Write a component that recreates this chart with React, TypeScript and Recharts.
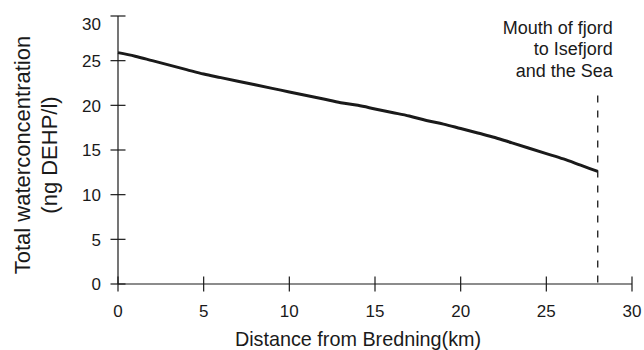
import React from "react";
import { LineChart, Line, XAxis, YAxis, ReferenceLine } from "recharts";

const distanceKm = [0, 1, 2, 3, 4, 5, 6, 7, 8, 9, 10, 11, 12, 13, 14, 15, 16, 17, 18, 19, 20, 21, 22, 23, 24, 25, 26, 27, 28];
const concentration = [25.9, 25.5, 25.0, 24.5, 24.0, 23.5, 23.1, 22.7, 22.3, 21.9, 21.5, 21.1, 20.7, 20.3, 20.0, 19.6, 19.2, 18.8, 18.3, 17.9, 17.4, 16.9, 16.4, 15.8, 15.2, 14.6, 14.0, 13.3, 12.6];
const xTicks = [0, 5, 10, 15, 20, 25, 30];
const yTicks = [0, 5, 10, 15, 20, 25, 30];
const mouthKm = 28;
const mouthTop = 21.1;
const mouthLabel = ["Mouth of fjord", "to Isefjord", "and the Sea"];
const xTitle = "Distance from Bredning(km)";
const yTitle = ["Total waterconcentration", "(ng DEHP/l)"];

const data = distanceKm.map((d, i) => ({ d, c: concentration[i] }));

const FONT = "'Liberation Sans', Arial, Helvetica, sans-serif";
const INK = "#1a1a1a";

const XTick = (props: any) => {
  const { x, y, payload } = props;
  return (
    <g>
      <line x1={x} x2={x} y1={y - 7.5} y2={y + 7.5} stroke={INK} strokeWidth={1.2} />
      <text x={x} y={y + 33} textAnchor="middle" fontSize={17} fontFamily={FONT} fill={INK}>
        {payload.value}
      </text>
    </g>
  );
};

const YTick = (props: any) => {
  const { x, y, payload } = props;
  const ty = Math.max(y, 23.5);
  return (
    <g>
      <line x1={x - 7.5} x2={x + 7.5} y1={y} y2={y} stroke={INK} strokeWidth={1.2} />
      <text x={x - 17} y={ty + 6.3} textAnchor="end" fontSize={17} fontFamily={FONT} fill={INK}>
        {payload.value}
      </text>
    </g>
  );
};

const YTitle = () => {
  const cy = 155;
  return (
    <g>
      <text transform={`translate(30, ${cy}) rotate(-90)`} textAnchor="middle" fontSize={22} fontFamily={FONT} fill={INK}>
        {yTitle[0]}
      </text>
      <text transform={`translate(56.5, ${cy}) rotate(-90)`} textAnchor="middle" fontSize={22} fontFamily={FONT} fill={INK}>
        {yTitle[1]}
      </text>
    </g>
  );
};

const XTitle = (props: any) => {
  const vb = props.viewBox || {};
  const cx = vb.x + vb.width / 2 - 17;
  return (
    <text x={cx} y={345.5} textAnchor="middle" fontSize={19.8} fontFamily={FONT} fill={INK}>
      {xTitle}
    </text>
  );
};

const MouthLabel = (props: any) => {
  const vb = props.viewBox || {};
  const x = vb.x + 15;
  const top = vb.y;
  return (
    <g>
      {mouthLabel.map((t, i) => (
        <text key={i} x={x} y={top - 62 + i * 21.5} textAnchor="end" fontSize={18} fontFamily={FONT} fill={INK}>
          {t}
        </text>
      ))}
    </g>
  );
};

export default function App() {
  return (
    <div style={{ position: "absolute", left: 0, top: 0, width: 644, height: 350, background: "#fff" }}>
      <LineChart width={644} height={350} data={data} margin={{ top: 16, right: 12, left: 0, bottom: 0 }}>
        <XAxis
          dataKey="d"
          type="number"
          domain={[0, 30]}
          ticks={xTicks}
          tickLine={false}
          tickSize={0}
          tickMargin={0}
          height={66}
          axisLine={{ stroke: INK, strokeWidth: 1.2 }}
          tick={<XTick />}
          label={<XTitle />}
        />
        <YAxis
          type="number"
          domain={[0, 30]}
          ticks={yTicks}
          tickLine={false}
          tickSize={0}
          tickMargin={0}
          width={118}
          axisLine={{ stroke: INK, strokeWidth: 1.2 }}
          tick={<YTick />}
          label={<YTitle />}
        />
        <ReferenceLine
          segment={[{ x: mouthKm, y: mouthTop }, { x: mouthKm, y: 0 }]}
          stroke={INK}
          strokeWidth={1.3}
          strokeDasharray="7 8"
          label={<MouthLabel />}
          ifOverflow="visible"
        />
        <Line
          dataKey="c"
          type="monotone"
          stroke={INK}
          strokeWidth={3}
          dot={false}
          isAnimationActive={false}
        />
      </LineChart>
    </div>
  );
}
